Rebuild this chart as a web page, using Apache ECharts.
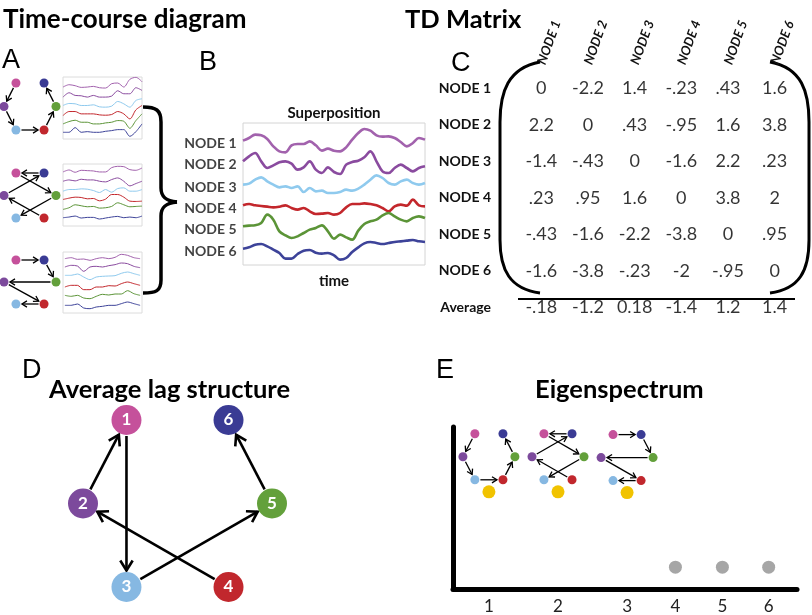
<!DOCTYPE html>
<html><head><meta charset="utf-8">
<script src="https://cdn.jsdelivr.net/npm/echarts@6/dist/echarts.min.js"></script>
<style>html,body{margin:0;padding:0;background:#fff}#c{width:812px;height:615px}</style>
</head><body><div id="c"></div>
<script>
// ---------------- data ----------------
const nodeNames = ['NODE 1','NODE 2','NODE 3','NODE 4','NODE 5','NODE 6'];
const nodeLabels = ['1','2','3','4','5','6'];
// node placement of the six-node diagrams (unit square)
const layoutX = [0.23, 0, 0.23, 0.77, 1, 0.77];
const layoutY = [0, 0.5, 1, 1, 0.5, 0];
// directed edges [from, to]
const edgesNet1 = [[1,2],[2,3],[3,4],[4,5],[5,6]];
const edgesNet2 = [[6,1],[1,5],[2,6],[4,2],[5,3]];
const edgesNet3 = [[1,6],[6,5],[5,2],[2,4],[4,3]];
const edgesAverage = [[2,1],[1,3],[4,2],[3,5],[5,6]];

// Panel A: small time courses (vertical position; larger = lower)
const miniA1 = [
  [45,38,41,46,45,43,47,48,35,33,45,22,16,29],
  [75,62,70,71,75,70,75,75,72,56,65,65,47,55],
  [100,94,95,100,100,98,104,105,102,88,95,105,85,80],
  [130,118,118,125,125,125,128,129,127,118,125,140,113,100],
  [155,148,144,150,150,155,155,152,150,145,147,168,145,125],
  [180,180,166,180,178,180,180,177,175,172,172,192,178,155]
];
const miniA2 = [
  [42,36,43,37,38,39,42,42,29,25,26,35,37,30],
  [70,66,69,64,66,66,70,72,65,60,70,84,77,70],
  [100,95,95,93,94,98,104,95,103,92,90,100,100,95],
  [125,121,118,119,123,122,129,124,110,110,118,130,131,130],
  [155,150,141,144,147,146,151,150,146,135,141,147,146,145],
  [180,178,175,181,179,179,184,181,178,176,180,178,180,175]
];
const miniA3 = [
  [55,52,57,56,60,55,52,55,51,42,45,52,55],
  [80,75,77,93,80,78,80,76,73,68,70,78,82],
  [105,105,101,110,118,110,108,107,106,99,95,100,105],
  [140,135,135,148,148,140,140,136,137,130,125,130,135],
  [165,168,165,173,175,168,162,164,161,161,151,160,165],
  [195,195,191,203,205,200,198,195,195,190,185,190,195]
];

// Panel B: superposition (time index, vertical position; larger = lower)
const superT = [0,1,2,3,4,5,6,7,8,9,10,11,12,13,14,15,16,17,18,19,20,21,22,23,24,25,26,27,28,29,30];
const super1 = [68,60,50,52,63,85,100,103,82,78,78,70,82,98,92,98,100,88,65,45,33,38,52,56,55,60,72,85,75,60,65];
const super2 = [130,115,105,130,150,142,133,130,137,155,148,130,155,165,148,162,168,140,132,128,118,100,130,160,165,150,140,150,160,150,145];
const super3 = [200,197,185,178,190,200,208,205,210,205,222,210,220,218,225,225,222,215,218,212,200,185,172,180,195,200,190,185,195,200,195];
const super4 = [262,258,262,264,266,268,266,262,270,275,270,280,288,287,285,290,285,268,258,258,256,258,262,270,280,265,260,263,245,262,265];
const super5 = [325,323,322,315,290,305,340,352,360,355,345,335,330,322,340,362,350,358,365,338,318,310,305,292,285,295,305,310,300,295,300];
const super6 = [392,388,380,378,385,395,405,422,422,408,398,396,404,407,405,412,425,420,402,388,376,372,375,378,375,372,370,368,366,370,372];

// Panel C: TD matrix
const tdMatrix = [
  [0,-2.2,1.4,-0.23,0.43,1.6],
  [2.2,0,0.43,-0.95,1.6,3.8],
  [-1.4,-0.43,0,-1.6,2.2,0.23],
  [0.23,0.95,1.6,0,3.8,2],
  [-0.43,-1.6,-2.2,-3.8,0,0.95],
  [-1.6,-3.8,-0.23,-2,-0.95,0]
];
const tdAverage = [-0.18,-1.2,0.18,-1.4,1.2,1.4];

// Panel E: eigenspectrum
const eigenRank = [1,2,3,4,5,6];
const eigenValue = [6.0,6.0,5.95,1.35,1.35,1.35];
// axis position of each rank on the (unevenly spaced) horizontal axis
const eigenPos = [1,2,3,3.7,4.38,5.05];

// ---------------- styles ----------------
const nodeColors = ['#c5519b','#7c4a9c','#86b8e2','#c1272d','#63a03b','#3a3b94'];
const lineColors = ['#a262ad','#8a4b9f','#8fcaee','#c3272c','#5b9437','#3d4399'];
const BOLD = 'Lato';

// ---------------- helpers ----------------
const grid = [], xAxis = [], yAxis = [], series = [];
function addGrid(g, xa, ya) {
  grid.push(g); const i = grid.length - 1;
  xAxis.push(Object.assign({gridIndex: i}, xa));
  yAxis.push(Object.assign({gridIndex: i}, ya));
  return i;
}
const hidden = (min, max, inv) => ({type: 'value', min, max, inverse: !!inv, show: false});

function arrowShape(p, q, r, lw, head) {
  const dx = q[0]-p[0], dy = q[1]-p[1], L = Math.hypot(dx, dy);
  const ux = dx/L, uy = dy/L;
  const s = [p[0]+ux*(r+1), p[1]+uy*(r+1)];
  const e = [q[0]-ux*(r+1.5), q[1]-uy*(r+1.5)];
  const bx = e[0]-ux*head, by = e[1]-uy*head, nx = -uy, ny = ux, hw = head*0.62;
  return [
    {type: 'line', shape: {x1: s[0], y1: s[1], x2: e[0], y2: e[1]}, style: {stroke: '#000', lineWidth: lw}},
    {type: 'polyline', shape: {points: [[bx+nx*hw, by+ny*hw], e, [bx-nx*hw, by-ny*hw]]},
     style: {stroke: '#000', lineWidth: lw, fill: null, lineJoin: 'miter'}}
  ];
}
function edgeSeries(gi, edges, r, lw, head) {
  return {type: 'custom', xAxisIndex: gi, yAxisIndex: gi, silent: true, clip: false, z: 2,
    data: edges,
    renderItem: (params, api) => {
      const a = api.value(0) - 1, b = api.value(1) - 1;
      const p = api.coord([layoutX[a], layoutY[a]]), q = api.coord([layoutX[b], layoutY[b]]);
      return {type: 'group', children: arrowShape(p, q, r, lw, head)};
    }};
}
function nodeSeries(gi, size, withLabel) {
  return {type: 'scatter', xAxisIndex: gi, yAxisIndex: gi, silent: true, clip: false, z: 3,
    symbolSize: size,
    data: layoutX.map((x, i) => ({value: [x, layoutY[i]], itemStyle: {color: nodeColors[i], opacity: 1},
      label: withLabel ? {show: true, position: 'inside', formatter: nodeLabels[i], color: '#fff',
        fontFamily: BOLD, fontWeight: 'bold', fontSize: 17} : {show: false}}))};
}

// ---------------- Panel A: networks ----------------
const aNetTops = [83, 173, 260], aNetHeights = [47, 45, 44];
const aNetEdges = [edgesNet1, edgesNet2, edgesNet3];
for (let k = 0; k < 3; k++) {
  const gi = addGrid({left: 4, top: aNetTops[k], width: 52, height: aNetHeights[k]}, hidden(0, 1), hidden(0, 1, true));
  series.push(edgeSeries(gi, aNetEdges[k], 4.5, 1.3, 5));
  series.push(nodeSeries(gi, 9, false));
}
// ---------------- Panel A: small time courses ----------------
const miniSets = [miniA1, miniA2, miniA3];
const miniTops = [77, 164, 252], miniHeights = [62, 62, 61];
const miniY = [[15, 200], [18, 205], [35, 218]];
const miniX = [[0, 13], [0, 13], [-0.3, 12.3]];
for (let k = 0; k < 3; k++) {
  const gi = addGrid({left: 63, top: miniTops[k], width: 79, height: miniHeights[k], show: true,
    borderColor: '#dcdcdc', borderWidth: 1, backgroundColor: '#fff'},
    hidden(miniX[k][0], miniX[k][1]), hidden(miniY[k][0], miniY[k][1], true));
  miniSets[k].forEach((arr, n) => series.push({type: 'line', xAxisIndex: gi, yAxisIndex: gi, silent: true,
    showSymbol: false, smooth: 0.3, data: arr.map((v, i) => [i, v]),
    lineStyle: {width: 1, color: lineColors[n]}}));
}

// ---------------- Panel B ----------------
const supers = [super1, super2, super3, super4, super5, super6];
const gB = addGrid({left: 243, top: 123, width: 182, height: 142, show: true, borderColor: '#d4d4d4', borderWidth: 1},
  {type: 'value', min: 0, max: 30, axisLine: {show: false}, axisTick: {show: false}, axisLabel: {show: false},
   splitLine: {show: false}, name: 'time', nameLocation: 'middle', nameGap: 9,
   nameTextStyle: {fontFamily: BOLD, fontWeight: 'bold', fontSize: 15, color: '#111'}},
  hidden(15, 441, true));
supers.forEach((arr, n) => series.push({type: 'line', xAxisIndex: gB, yAxisIndex: gB, silent: true,
  showSymbol: false, smooth: 0.35, data: arr.map((v, i) => [superT[i], v]),
  lineStyle: {width: 2.6, color: lineColors[n]}}));
series.push({type: 'scatter', xAxisIndex: gB, yAxisIndex: gB, silent: true, symbolSize: 1,
  itemStyle: {color: 'rgba(0,0,0,0)'},
  data: supers.map((arr, n) => ({value: [superT[0], arr[0]], name: nodeNames[n]})),
  label: {show: true, position: 'left', distance: 6, offset: [0, 3], formatter: p => p.name,
    fontFamily: BOLD, fontWeight: 'bold', fontSize: 14, color: '#111'}});

// ---------------- Panel C ----------------
const gC = addGrid({left: 518, top: 70, width: 280, height: 255.5},
  {type: 'category', data: nodeNames, position: 'top', axisLine: {show: false}, axisTick: {show: false},
   axisLabel: {rotate: -70, margin: 6, fontFamily: BOLD, fontWeight: 'bold', fontStyle: 'italic', fontSize: 13, color: '#111'}},
  {type: 'category', data: nodeNames.concat(['Average']), inverse: true, axisLine: {show: false}, axisTick: {show: false},
   axisLabel: {margin: 27, fontFamily: BOLD, fontWeight: 'bold', fontSize: 14, color: '#111'}});
function fmtTD(v, isAvg) {
  if (v === 0) return '0';
  const s = String(v);
  if (Math.abs(v) < 1) {
    if (v < 0) return '-' + s.slice(2);
    return isAvg ? s : s.slice(1);
  }
  return s;
}
const tdData = [];
tdMatrix.forEach((row, r) => row.forEach((v, c) => tdData.push([c, r, v])));
tdAverage.forEach((v, c) => tdData.push([c, 6, v]));
series.push({type: 'scatter', xAxisIndex: gC, yAxisIndex: gC, silent: true, symbolSize: 1,
  itemStyle: {color: 'rgba(0,0,0,0)'}, data: tdData,
  label: {show: true, position: 'inside', formatter: p => fmtTD(p.value[2], p.value[1] === 6),
    fontFamily: BOLD, fontSize: 18, color: '#000'}});

// ---------------- Panel D ----------------
const gD = addGrid({left: 83, top: 420, width: 189, height: 167}, hidden(0, 1), hidden(0, 1, true));
series.push(edgeSeries(gD, edgesAverage, 15, 2.6, 10));
series.push(nodeSeries(gD, 30, true));

// ---------------- Panel E ----------------
const gE = addGrid({left: 453, top: 427, width: 344, height: 162},
  {type: 'value', min: 0.48, max: 5.46, axisLine: {show: true, onZero: false, lineStyle: {color: '#000', width: 5}},
   axisTick: {show: false}, splitLine: {show: false},
   axisLabel: {customValues: eigenPos, margin: 9, fontFamily: BOLD, fontSize: 17, color: '#222',
     formatter: v => { const i = eigenPos.findIndex(p => Math.abs(p - v) < 1e-6); return i >= 0 ? String(eigenRank[i]) : ''; }}},
  {type: 'value', min: 0, max: 10, axisLine: {show: true, onZero: false, lineStyle: {color: '#000', width: 5}},
   axisTick: {show: false}, axisLabel: {show: false}, splitLine: {show: false}});
series.push({type: 'scatter', xAxisIndex: gE, yAxisIndex: gE, silent: true, symbolSize: 13, z: 3,
  data: eigenPos.map((x, i) => ({value: [x, eigenValue[i]], itemStyle: {color: i < 3 ? '#f1c300' : '#a6a6a6', opacity: 1}}))});
const eNetEdges = [edgesNet1, edgesNet2, edgesNet3];
series.push({type: 'custom', xAxisIndex: gE, yAxisIndex: gE, silent: true, clip: false, z: 4,
  data: [0, 1, 2].map(i => [eigenPos[i], eigenValue[i], i]),
  renderItem: (params, api) => {
    const p = api.coord([api.value(0), api.value(1)]);
    const k = api.value(2);
    const cx = p[0], cy = p[1] - 35, w = 52, h = 46, r = 4.5;
    const pts = layoutX.map((x, j) => [cx + (x - 0.5) * w, cy + (layoutY[j] - 0.5) * h]);
    const children = [];
    eNetEdges[k].forEach(e => children.push(...arrowShape(pts[e[0]-1], pts[e[1]-1], r, 1.3, 5)));
    pts.forEach((pt, j) => children.push({type: 'circle', shape: {cx: pt[0], cy: pt[1], r: r}, style: {fill: nodeColors[j]}}));
    return {type: 'group', children};
  }});

// ---------------- titles ----------------
const tBold = (text, left, top, size) => ({text, left, top, padding: 0,
  textStyle: {fontFamily: BOLD, fontWeight: 'bold', fontSize: size, color: '#000'}});
const tLetter = (text, left, top) => ({text, left, top, padding: 0,
  textStyle: {fontFamily: 'Liberation Sans', fontWeight: 'normal', fontSize: 27, color: '#000'}});
const title = [
  tBold('Time-course diagram', 3, 7, 26),
  tBold('TD Matrix', 405, 7, 25.5),
  tBold('Average lag structure', 49, 377, 25.5),
  tBold('Eigenspectrum', 535, 377, 25.5),
  {text: 'Superposition', left: 334, top: 106, padding: 0, textAlign: 'center',
   textStyle: {fontFamily: BOLD, fontWeight: 'bold', fontSize: 15, color: '#111'}},
  tLetter('A', 2, 47), tLetter('B', 199, 49), tLetter('C', 451, 50), tLetter('D', 22, 357), tLetter('E', 436, 357)
];

// ---------------- decorations (brace, matrix brackets, rule) ----------------
const deco = {stroke: '#000', fill: null};
function bz(a, c1, c2, b, lw) {
  return {type: 'bezierCurve', shape: {x1: a[0], y1: a[1], cpx1: c1[0], cpy1: c1[1], cpx2: c2[0], cpy2: c2[1], x2: b[0], y2: b[1]},
    style: Object.assign({lineWidth: lw}, deco)};
}
function ln(a, b, lw) {
  return {type: 'line', shape: {x1: a[0], y1: a[1], x2: b[0], y2: b[1]}, style: Object.assign({lineWidth: lw}, deco)};
}
const graphic = [
  // curly brace of panel A
  bz([143,107],[156,107],[161,110],[161,122],3.5), ln([161,122],[161,188],3.5),
  bz([161,188],[161,197],[166,201],[177,202],3.5), bz([177,202],[166,203],[161,207],[161,216],3.5),
  ln([161,216],[161,280],3.5), bz([161,280],[161,291],[156,293],[143,293],3.5),
  // matrix brackets
  bz([540,62],[508,68],[500,92],[500,122],3), ln([500,122],[500,240],3), bz([500,240],[500,270],[510,289],[540,293],3),
  bz([770,62],[802,68],[809,92],[809,122],3), ln([809,122],[809,240],3), bz([809,240],[809,270],[800,289],[770,293],3),
  ln([518,299],[795,299],2)
];

const chart = echarts.init(document.getElementById('c'), null, {renderer: 'canvas'});
chart.setOption({animation: false, backgroundColor: '#fff', title, grid, xAxis, yAxis, series, graphic});
</script></body></html>
